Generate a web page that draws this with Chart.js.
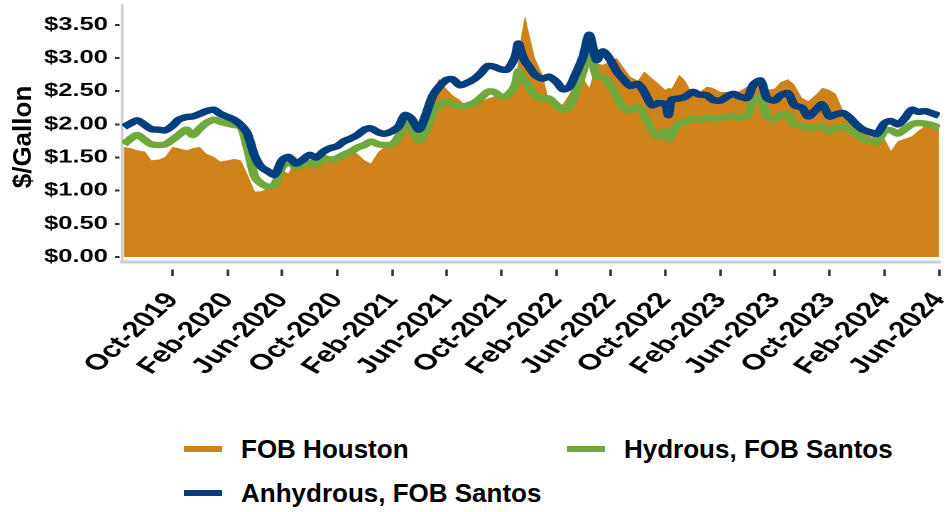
<!DOCTYPE html>
<html>
<head>
<meta charset="utf-8">
<script src="https://cdn.jsdelivr.net/npm/chart.js@4.4.1/dist/chart.umd.min.js"></script>
<style>
  body { margin: 0; background: #fff; }
  #wrap { position: relative; width: 950px; height: 512px; overflow: hidden; }
  /* the source picture is stretched sideways, so the chart is too */
  #stretch { position: absolute; left: 0; top: 0; width: 669px; height: 400px; transform: scaleX(1.42); transform-origin: 0 0; }
  #ytitle { position: absolute; left: -78px; top: 122px; width: 200px; height: 30px; line-height: 30px; text-align: center;
            transform: rotate(-90deg); font: bold 26px 'Liberation Sans', Arial, sans-serif; color: #000; }
  .leg { position: absolute; height: 30px; line-height: 30px; font: bold 26px 'Liberation Sans', Arial, sans-serif; color: #000; white-space: nowrap; }
  .sw { position: absolute; width: 38px; height: 6px; }
</style>
</head>
<body>
<div id="wrap">
  <div id="stretch"><canvas id="grafico"></canvas></div>
  <div id="ytitle">$/Gallon</div>
  <div id="legend"></div>
</div>
<script>
// semi-monthly observations
const dates = [
  '2019-06-15','2019-07-01','2019-07-15','2019-08-01','2019-08-15','2019-09-01','2019-09-15','2019-10-01','2019-10-15','2019-11-01','2019-11-15','2019-12-01','2019-12-15',
  '2020-01-01','2020-01-15','2020-02-01','2020-02-15','2020-03-01','2020-03-15','2020-04-01','2020-04-15','2020-05-01','2020-05-15','2020-06-01','2020-06-15',
  '2020-07-01','2020-07-15','2020-08-01','2020-08-15','2020-09-01','2020-09-15','2020-10-01','2020-10-15','2020-11-01','2020-11-15','2020-12-01','2020-12-15',
  '2021-01-01','2021-01-15','2021-02-01','2021-02-15','2021-03-01','2021-03-15','2021-04-01','2021-04-15','2021-05-01','2021-05-15','2021-06-01','2021-06-15',
  '2021-07-01','2021-07-15','2021-08-01','2021-08-15','2021-09-01','2021-09-15','2021-10-01','2021-10-15','2021-11-01','2021-11-08','2021-11-15','2021-11-23','2021-12-01','2021-12-15',
  '2022-01-01','2022-01-15','2022-02-01','2022-02-15','2022-03-01','2022-03-15','2022-04-01','2022-04-15','2022-05-01','2022-05-15','2022-06-01','2022-06-15',
  '2022-07-01','2022-07-15','2022-08-01','2022-08-15','2022-09-01','2022-09-15','2022-10-01','2022-10-08','2022-10-15','2022-11-01','2022-11-15','2022-12-01','2022-12-15',
  '2023-01-01','2023-01-15','2023-02-01','2023-02-15','2023-03-01','2023-03-15','2023-04-01','2023-04-15','2023-05-01','2023-05-15','2023-06-01','2023-06-15',
  '2023-07-01','2023-07-15','2023-08-01','2023-08-15','2023-09-01','2023-09-15','2023-10-01','2023-10-15','2023-11-01','2023-11-15','2023-12-01','2023-12-15',
  '2024-01-01','2024-01-15','2024-02-01','2024-02-15','2024-03-01','2024-03-15','2024-04-01','2024-04-15','2024-05-01','2024-05-15','2024-06-01'
];

const fobHouston = [
  1.66, 1.64, 1.61, 1.59, 1.46, 1.47, 1.51, 1.66, 1.64, 1.61, 1.64, 1.66, 1.56,
  1.51, 1.44, 1.46, 1.48, 1.46, 1.26, 0.99, 0.99, 1.04, 1.06, 1.31, 1.26,
  1.52, 1.36, 1.44, 1.46, 1.46, 1.49, 1.54, 1.59, 1.65, 1.56, 1.46, 1.41,
  1.59, 1.66, 1.67, 1.76, 2.02, 1.89, 1.76, 1.92, 2.37, 2.69, 2.54, 2.44,
  2.37, 2.27, 2.29, 2.34, 2.39, 2.42, 2.42, 2.49, 2.67, 2.95, 3.35, 3.65, 3.40, 3.00,
  2.75, 2.37, 2.32, 2.30, 2.45, 2.62, 2.70, 2.55, 2.92, 2.90, 2.95, 3.00,
  2.85, 2.72, 2.66, 2.80, 2.70, 2.62, 2.52, 2.55, 2.54, 2.75, 2.65, 2.45, 2.48,
  2.57, 2.55, 2.49, 2.49, 2.50, 2.50, 2.57, 2.52, 2.62, 2.52, 2.54, 2.64,
  2.68, 2.60, 2.40, 2.35, 2.45, 2.55, 2.52, 2.46, 2.20, 2.12, 2.00, 1.88,
  1.82, 1.80, 1.78, 1.60, 1.75, 1.78, 1.82, 1.90, 1.98, 1.99, 1.96
];

const hydrousSantos = [
  1.70, 1.79, 1.84, 1.76, 1.70, 1.69, 1.70, 1.77, 1.84, 1.92, 1.84, 1.94, 2.02,
  2.07, 2.04, 2.01, 1.99, 1.97, 1.66, 1.21, 1.11, 1.06, 1.09, 1.36, 1.44,
  1.36, 1.39, 1.42, 1.39, 1.49, 1.47, 1.49, 1.54, 1.59, 1.65, 1.69, 1.74,
  1.70, 1.69, 1.70, 1.82, 2.02, 1.94, 1.75, 1.89, 2.17, 2.28, 2.34, 2.31,
  2.27, 2.28, 2.32, 2.39, 2.49, 2.49, 2.42, 2.44, 2.59, 2.80, 2.72, 2.64, 2.58, 2.44,
  2.38, 2.39, 2.29, 2.22, 2.27, 2.47, 2.80, 3.17, 2.72, 2.72, 2.59, 2.42,
  2.24, 2.22, 2.26, 2.14, 1.92, 1.82, 1.90, 1.78, 1.85, 2.02, 2.04, 2.09, 2.07,
  2.10, 2.08, 2.10, 2.12, 2.13, 2.10, 2.14, 2.35, 2.40, 2.12, 2.08, 2.14,
  2.14, 2.00, 1.98, 1.96, 1.95, 1.97, 1.90, 1.94, 1.96, 1.93, 1.85, 1.78,
  1.75, 1.74, 1.90, 1.91, 1.86, 1.92, 2.00, 2.02, 2.01, 1.99, 1.95
];

const anhydrousSantos = [
  1.96, 2.02, 2.06, 1.99, 1.93, 1.92, 1.91, 1.98, 2.07, 2.11, 2.12, 2.16, 2.20,
  2.22, 2.16, 2.11, 2.07, 1.99, 1.87, 1.52, 1.36, 1.29, 1.24, 1.46, 1.51,
  1.41, 1.46, 1.54, 1.50, 1.59, 1.64, 1.67, 1.74, 1.79, 1.84, 1.92, 1.94,
  1.88, 1.86, 1.90, 1.97, 2.14, 2.09, 1.92, 2.12, 2.42, 2.56, 2.67, 2.68,
  2.59, 2.62, 2.68, 2.76, 2.88, 2.87, 2.83, 2.83, 3.02, 3.22, 3.08, 2.95, 2.88, 2.75,
  2.69, 2.72, 2.64, 2.53, 2.56, 2.75, 3.02, 3.35, 2.97, 3.10, 2.97, 2.80,
  2.67, 2.58, 2.61, 2.49, 2.29, 2.32, 2.30, 2.14, 2.37, 2.39, 2.42, 2.49, 2.45,
  2.44, 2.37, 2.36, 2.42, 2.46, 2.42, 2.40, 2.60, 2.66, 2.40, 2.36, 2.44,
  2.47, 2.29, 2.25, 2.12, 2.22, 2.30, 2.12, 2.15, 2.17, 2.10, 1.99, 1.92,
  1.88, 1.86, 2.02, 2.05, 2.00, 2.08, 2.22, 2.19, 2.20, 2.17, 2.13
];

const tickLabels = ['Oct-2019', 'Feb-2020', 'Jun-2020', 'Oct-2020', 'Feb-2021', 'Jun-2021', 'Oct-2021', 'Feb-2022',
                    'Jun-2022', 'Oct-2022', 'Feb-2023', 'Jun-2023', 'Oct-2023', 'Feb-2024', 'Jun-2024'];
const yTicks = [0, 0.5, 1, 1.5, 2, 2.5, 3, 3.5];

const ORANGE = '#D0821A';
const GREEN = '#70A83C';
const BLUE = '#033F7E';

const MONTHS = ['Jan', 'Feb', 'Mar', 'Apr', 'May', 'Jun', 'Jul', 'Aug', 'Sep', 'Oct', 'Nov', 'Dec'];
const dayOf = s => Date.parse(s + 'T00:00:00Z') / 864e5;
const tickDay = l => {
    const [m, y] = l.split('-');
    return Date.UTC(+y, MONTHS.indexOf(m), 1) / 864e5;
};
const pts = arr => arr.map((v, i) => ({ x: dayOf(dates[i]), y: v }));

Chart.defaults.font.family = "'Liberation Sans', Arial, sans-serif";
Chart.defaults.font.size = 18;
Chart.defaults.font.weight = 'bold';
Chart.defaults.color = '#000';

const chart = new Chart(document.getElementById('grafico'), {
    type: 'line',
    data: {
        datasets: [{
            label: 'FOB Houston',
            data: pts(fobHouston),
            backgroundColor: ORANGE,
            borderColor: ORANGE,
            borderWidth: 0,
            fill: 'origin',
            pointRadius: 0,
            order: 3
        }, {
            label: 'Hydrous, FOB Santos',
            data: pts(hydrousSantos),
            borderColor: GREEN,
            backgroundColor: GREEN,
            borderWidth: 6.5,
            fill: false,
            pointRadius: 0,
            tension: 0.3,
            order: 2
        }, {
            label: 'Anhydrous, FOB Santos',
            data: pts(anhydrousSantos),
            borderColor: BLUE,
            backgroundColor: BLUE,
            borderWidth: 6.5,
            fill: false,
            pointRadius: 0,
            tension: 0.3,
            order: 1
        }]
    },
    options: {
        responsive: true,
        maintainAspectRatio: false,
        animation: false,
        devicePixelRatio: 2,
        layout: { padding: { left: 0, right: 7, top: 5, bottom: 0 } },
        plugins: {
            legend: { display: false },
            tooltip: { enabled: false }
        },
        scales: {
            x: {
                type: 'linear',
                min: dayOf('2019-06-11'),
                max: dayOf('2024-06-03'),
                afterBuildTicks: s => { s.ticks = tickLabels.map(l => ({ value: tickDay(l) })); },
                afterFit: s => { s.height = 138; s.paddingLeft = 0; s.paddingRight = 0; },
                ticks: {
                    autoSkip: false,
                    minRotation: 52,
                    maxRotation: 52,
                    padding: 12,
                    font: { size: 22 },
                    callback: (v, i) => tickLabels[i]
                },
                grid: {
                    drawOnChartArea: false,
                    tickLength: 14,
                    tickColor: '#333',
                    tickWidth: 1.8,
                    tickBorderDash: [0, 6, 8, 100] // small gap under the axis line
                },
                border: { color: '#cfcfcf', width: 3 }
            },
            y: {
                min: -0.075,
                max: 3.8,
                afterBuildTicks: s => { s.ticks = yTicks.map(v => ({ value: v })); },
                afterFit: s => { s.width = 86; s.paddingTop = 0; s.paddingBottom = 0; },
                ticks: {
                    padding: 5,
                    callback: v => '$' + v.toFixed(2)
                },
                grid: {
                    drawOnChartArea: false,
                    tickLength: 5,
                    tickColor: '#333',
                    tickWidth: 2,
                    tickBorderDash: [3.2, 20]
                },
                border: { color: '#cfcfcf', width: 2 }
            }
        }
    }
});

// legend in two columns, built from the datasets
const legendSlots = [{ left: 184, mid: 449 }, { left: 567, mid: 449 }, { left: 184, mid: 493 }];
const legend = document.getElementById('legend');
chart.data.datasets.forEach((ds, i) => {
    const slot = legendSlots[i];
    const sw = document.createElement('div');
    sw.className = 'sw';
    sw.style.left = slot.left + 'px';
    sw.style.top = (slot.mid - 3) + 'px';
    sw.style.background = ds.backgroundColor;
    legend.appendChild(sw);
    const txt = document.createElement('div');
    txt.className = 'leg';
    txt.style.left = (slot.left + 57) + 'px';
    txt.style.top = (slot.mid - 15) + 'px';
    txt.textContent = ds.label;
    legend.appendChild(txt);
});
</script>
</body>
</html>
